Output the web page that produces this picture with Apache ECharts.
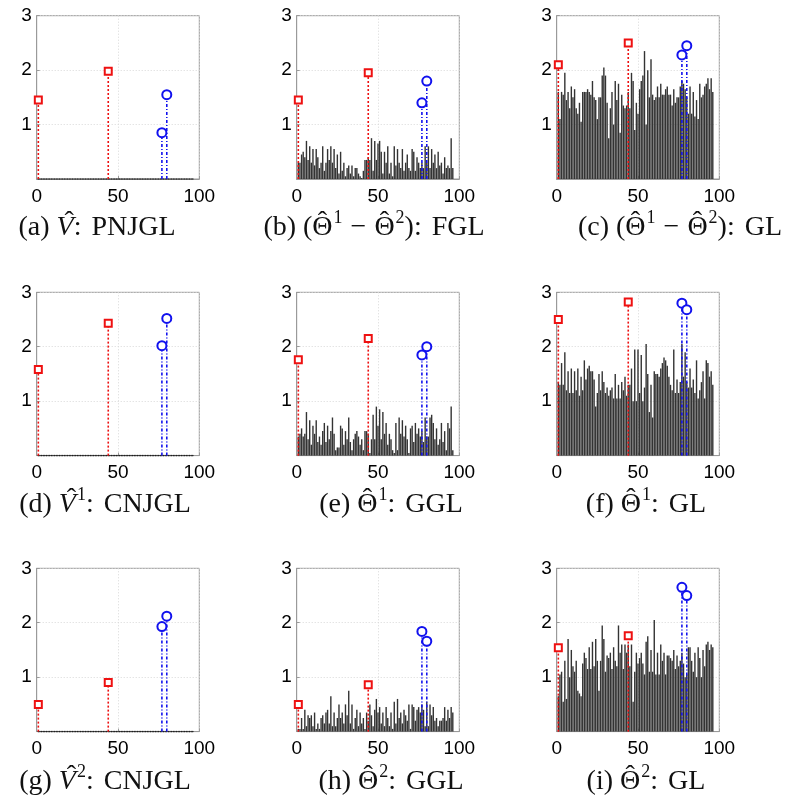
<!DOCTYPE html>
<html><head><meta charset="utf-8">
<script src="https://cdn.jsdelivr.net/npm/echarts@6/dist/echarts.min.js"></script>
<style>html,body{margin:0;padding:0;background:#fff}#c{width:800px;height:807px}</style>
</head><body><div id="c"></div>
<script>
// x positions of nodes are index+1 (1..96)
const xTicks = [0, 50, 100];
const yTicks = [1, 2, 3];
const redNodes = [1, 44];
const blueNodes = [77, 80];

const zerosA = [0,0,0,0,0,0,0,0,0,0,0,0,0,0,0,0,0,0,0,0,0,0,0,0,0,0,0,0,0,0,0,0,0,0,0,0,0,0,0,0,0,0,0,0,0,0,0,0,0,0,0,0,0,0,0,0,0,0,0,0,0,0,0,0,0,0,0,0,0,0,0,0,0,0,0,0,0,0,0,0,0,0,0,0,0,0,0,0,0,0,0,0,0,0,0,0];
const valsB = [0.3,0.3,0.45,0.5,0.4,0.7,0.35,0.6,0.3,0.55,0.25,0.55,0.4,0.2,0.3,0.6,0.15,0.3,0.55,0.35,0.6,0.3,0.55,0.2,0.45,0.1,0.5,0.15,0.3,0.05,0.2,0.25,0.1,0.25,0.05,0.2,0.2,0.1,0.05,0.02,0.15,0.35,0.35,0.4,0.35,0.75,0.15,0.7,0.35,0.65,0.7,0.5,0.1,0.5,0.3,0.6,0.1,0.3,0.05,0.6,0.25,0.55,0.3,0.2,0.55,0.15,0.3,0.45,0.2,0.15,0.55,0.5,0.15,0.4,0.3,0.2,0.3,0.2,0.6,0.3,0.6,0.2,0.55,0.3,0.45,0.2,0.5,0.25,0.3,0.1,0.4,0.2,0.25,0.2,0.75,0.2];
const valsC = [1.6,1.1,1.6,1.55,1.95,1.45,1.6,1.3,1.7,1.5,1.65,1.3,1.2,1.4,1.05,1.6,1.6,1.6,1.65,1.6,1.55,1.8,1.5,1.45,1.1,1.5,1.5,1.9,2.05,1.9,1.4,0.75,1.3,1.6,1.0,1.8,1.45,1.75,0.85,1.55,1.35,1.3,1.35,1.6,1.3,1.95,1.8,0.9,1.4,1.2,1.65,1.8,1.9,2.35,1.0,2.0,1.5,2.2,1.55,1.45,1.5,1.7,1.5,1.75,1.55,1.55,1.65,1.7,1.55,1.55,1.35,1.65,1.4,1.5,1.5,1.7,1.8,1.75,1.65,1.5,1.2,1.7,1.2,1.6,1.15,1.45,1.1,1.75,1.5,1.55,1.7,1.75,1.85,1.65,1.85,1.6];
const valsE = [0.35,0.4,0.5,0.35,0.4,0.8,0.3,0.65,0.2,0.55,0.4,0.65,0.25,0.35,0.2,0.45,0.6,0.25,0.55,0.3,0.45,0.7,0.4,0.1,0.15,0.15,0.55,0.5,0.2,0.45,0.3,0.7,0.25,0.1,0.3,0.4,0.45,0.35,0.2,0.3,0.1,0.45,0.45,0.4,0.05,0.3,0.75,0.3,0.9,0.55,0.85,0.3,0.8,0.4,0.6,0.2,0.4,0.3,0.1,0.05,0.6,0.1,0.7,0.4,0.65,0.35,0.55,0.3,0.05,0.5,0.55,0.25,0.6,0.4,0.5,0.35,0.45,0.25,0.7,0.35,0.35,0.7,0.75,0.6,0.3,0.5,0.2,0.3,0.6,0.25,0.45,0.1,0.6,0.5,0.9,0.1];
const valsF = [1.35,1.3,1.7,1.3,1.9,1.2,1.55,1.15,1.6,1.15,1.55,1.2,1.6,1.1,1.45,1.2,1.75,1.4,1.6,1.65,1.55,1.55,1.4,0.9,1.15,1.5,1.2,1.55,1.35,1.15,1.25,1.1,1.2,1.25,1.05,1.5,1.05,1.3,1.05,1.35,1.2,1.45,1.1,1.3,1.3,1.6,1.0,1.95,1.0,1.95,1.15,1.85,1.0,1.25,2.05,1.5,0.8,1.3,0.7,1.55,1.5,1.5,1.45,1.6,1.7,1.8,1.75,1.65,1.45,1.3,1.2,1.95,1.15,1.4,1.15,1.35,2.05,1.45,1.9,1.35,1.25,1.6,1.25,1.4,1.15,1.75,1.05,1.2,1.35,1.55,1.05,1.75,1.7,1.45,1.55,1.3];
const valsH = [0.05,0.05,0.25,0.05,0.4,0.1,0.3,0.25,0.3,0.1,0.35,0.05,0.15,0.05,0.25,0.3,0.15,0.35,0.4,0.15,0.65,0.1,0.35,0.1,0.25,0.5,0.25,0.35,0.15,0.5,0.3,0.75,0.15,0.5,0.05,0.25,0.4,0.1,0.35,0.15,0.25,0.05,0.35,0.2,0.5,0.3,0.1,0.4,0.6,0.35,0.45,0.15,0.35,0.1,0.45,0.25,0.1,0.35,0.05,0.55,0.15,0.6,0.25,0.35,0.15,0.4,0.3,0.2,0.5,0.05,0.5,0.45,0.2,0.4,0.45,0.35,0.5,0.4,0.1,0.55,0.1,0.5,0.3,0.45,0.2,0.25,0.1,0.2,0.2,0.25,0.45,0.2,0.4,0.25,0.45,0.35];
const valsI = [0.65,1.05,1.1,0.55,1.3,0.6,1.7,1.0,1.5,1.2,1.1,1.3,0.75,0.7,0.65,1.25,1.45,1.35,1.15,1.55,1.15,1.65,1.2,1.7,1.3,0.75,1.3,1.95,1.7,1.1,1.4,1.35,1.45,1.15,1.55,1.3,1.2,1.95,1.45,1.6,1.15,1.6,1.45,1.6,1.2,1.6,0.55,1.1,1.45,1.25,1.35,1.45,1.25,1.05,1.65,1.75,1.1,1.5,1.1,2.05,1.05,1.45,1.05,1.6,1.3,1.45,1.05,1.4,1.4,1.35,1.3,1.5,1.15,1.4,1.2,1.3,1.45,1.25,1.0,1.05,1.55,1.55,1.3,1.1,1.45,1.0,1.55,1.35,1.0,1.5,1.2,1.6,1.65,1.5,1.6,1.55];

const redA = [1.45, 1.98], blueA = [0.85, 1.55];
const redB = [1.45, 1.95], blueB = [1.4, 1.8];
const redC = [2.1, 2.5],  blueC = [2.28, 2.45];
const redD = [1.58, 2.43], blueD = [2.02, 2.52];
const redE = [1.76, 2.15], blueE = [1.85, 2.0];
const redF = [2.5, 2.82], blueF = [2.8, 2.68];
const redG = [0.5, 0.9],  blueG = [1.93, 2.12];
const redH = [0.5, 0.86], blueH = [1.84, 1.66];
const redI = [1.54, 1.76], blueI = [2.65, 2.5];

const panels = [
  {vals: zerosA, red: redA, blue: blueA},
  {vals: valsB, red: redB, blue: blueB},
  {vals: valsC, red: redC, blue: blueC},
  {vals: zerosA, red: redD, blue: blueD},
  {vals: valsE, red: redE, blue: blueE},
  {vals: valsF, red: redF, blue: blueF},
  {vals: zerosA, red: redG, blue: blueG},
  {vals: valsH, red: redH, blue: blueH},
  {vals: valsI, red: redI, blue: blueI}
];

// caption tokens: n = roman, iv = italic with hat, h = roman with hat, s = superscript, g = gap(px)
const captions = [
  {x: 97,  y: 228, t: [['n','(a) '],['iv','V'],['n',':'],['g',10],['n','PNJGL']]},
  {x: 374, y: 228, t: [['n','(b) ('],['h','Θ'],['s','1'],['g',8],['n','−'],['g',8],['h','Θ'],['s','2'],['n','):'],['g',10],['n','FGL']]},
  {x: 680, y: 228, t: [['n','(c) ('],['h','Θ'],['s','1'],['g',8],['n','−'],['g',8],['h','Θ'],['s','2'],['n','):'],['g',10],['n','GL']]},
  {x: 105, y: 505, t: [['n','(d) '],['iv','V'],['s','1'],['n',':'],['g',10],['n','CNJGL']]},
  {x: 391, y: 505, t: [['n','(e) '],['h','Θ'],['s','1'],['n',':'],['g',10],['n','GGL']]},
  {x: 646, y: 505, t: [['n','(f) '],['h','Θ'],['s','1'],['n',':'],['g',10],['n','GL']]},
  {x: 105, y: 782, t: [['n','(g) '],['iv','V'],['s','2'],['n',':'],['g',10],['n','CNJGL']]},
  {x: 391, y: 782, t: [['n','(h) '],['h','Θ'],['s','2'],['n',':'],['g',10],['n','GGL']]},
  {x: 646, y: 782, t: [['n','(i) '],['h','Θ'],['s','2'],['n',':'],['g',10],['n','GL']]}
];

const colLeft = [36.7, 296.7, 556.7];
const rowTop = [15.7, 292.3, 568.3];
const W = 162.6, H = 163.3;
const boxColor = '#9a9a9a';

const grids = [], xAxes = [], yAxes = [], series = [];
panels.forEach((p, k) => {
  const r = Math.floor(k / 3), c = k % 3;
  grids.push({left: colLeft[c], top: rowTop[r], width: W, height: H, show: true, borderColor: boxColor, borderWidth: 1, backgroundColor: '#fff'});
  xAxes.push({
    type: 'value', gridIndex: k, min: xTicks[0], max: xTicks[2], interval: 50,
    axisLine: {show: true, lineStyle: {color: boxColor}},
    axisTick: {show: true, inside: true, length: 3, lineStyle: {color: boxColor}},
    axisLabel: {color: '#000', fontFamily: 'Liberation Sans', fontSize: 19, margin: 8},
    splitLine: {show: true, lineStyle: {color: '#d8d8d8', type: [1, 2]}}
  });
  yAxes.push({
    type: 'value', gridIndex: k, min: 0, max: 3, interval: 1,
    axisLine: {show: true, lineStyle: {color: boxColor}},
    axisTick: {show: true, inside: true, length: 3, lineStyle: {color: boxColor}},
    axisLabel: {color: '#000', fontFamily: 'Liberation Sans', fontSize: 19, margin: 5,
      formatter: v => (yTicks.indexOf(v) >= 0 ? String(v) : '')},
    splitLine: {show: true, lineStyle: {color: '#d8d8d8', type: [1, 2]}}
  });
  const pts = p.vals.map((v, i) => [i + 1, v]);
  series.push({
    type: 'bar', xAxisIndex: k, yAxisIndex: k, barWidth: 1.4,
    itemStyle: {color: '#333'}, data: pts.filter(d => d[1] > 0), silent: true, z: 2
  });
  const zeroPts = pts.filter(d => d[1] === 0);
  if (zeroPts.length) {
    series.push({
      type: 'scatter', xAxisIndex: k, yAxisIndex: k, symbol: 'circle', symbolSize: 1.6,
      itemStyle: {color: '#000'}, data: zeroPts, silent: true, z: 2
    });
  }
  redNodes.forEach((n, j) => {
    series.push({
      type: 'line', xAxisIndex: k, yAxisIndex: k, z: 4, silent: true,
      lineStyle: {color: '#ee1111', width: 1.6, type: [2, 2]},
      itemStyle: {color: '#ee1111', borderWidth: 1.4},
      symbolSize: 7,
      data: [{value: [n, 0], symbol: 'none'}, {value: [n, p.red[j]], symbol: 'emptyRect'}]
    });
  });
  blueNodes.forEach((n, j) => {
    series.push({
      type: 'line', xAxisIndex: k, yAxisIndex: k, z: 4, silent: true,
      lineStyle: {color: '#1111ee', width: 1.6, type: [3, 2, 1, 2]},
      itemStyle: {color: '#1111ee', borderWidth: 1.4},
      symbolSize: 9,
      data: [{value: [n, 0], symbol: 'none'}, {value: [n, p.blue[j]], symbol: 'emptyCircle'}]
    });
  });
});

// caption layout
const capFamily = 'Liberation Serif';
const capSize = 28, supSize = 18;
const mctx = document.createElement('canvas').getContext('2d');
function tokStyle(kind) {
  if (kind === 'iv') return {fontStyle: 'italic', fontSize: capSize};
  if (kind === 's') return {fontStyle: 'normal', fontSize: supSize};
  return {fontStyle: 'normal', fontSize: capSize};
}
function tokWidth(kind, txt) {
  if (kind === 'g') return txt;
  const s = tokStyle(kind);
  mctx.font = s.fontStyle + ' ' + s.fontSize + 'px "' + capFamily + '"';
  return mctx.measureText(txt).width + (kind === 's' ? 1 : 0);
}
const graphics = [];
captions.forEach(cp => {
  const widths = cp.t.map(tk => tokWidth(tk[0], tk[1]));
  const total = widths.reduce((a, b) => a + b, 0);
  let x = cp.x - total / 2;
  cp.t.forEach((tk, i) => {
    const kind = tk[0];
    if (kind !== 'g') {
      const s = tokStyle(kind);
      const yy = kind === 's' ? cp.y - 10 : cp.y;
      graphics.push({type: 'text', x: x + (kind === 's' ? 1 : 0), y: yy, silent: true, style: {
        text: tk[1], fontFamily: capFamily, fontSize: s.fontSize, fontStyle: s.fontStyle,
        fill: '#111', textAlign: 'left', textVerticalAlign: 'middle'}});
      if (kind === 'h' || kind === 'iv') {
        const hx = x + widths[i] / 2 + (kind === 'iv' ? 4 : 0);
        graphics.push({type: 'text', x: hx, y: cp.y - 5, silent: true, style: {
          text: 'ˆ', fontFamily: capFamily, fontSize: capSize, fill: '#111',
          textAlign: 'center', textVerticalAlign: 'middle'}});
      }
    }
    x += widths[i];
  });
});

const chart = echarts.init(document.getElementById('c'), null, {renderer: 'canvas'});
chart.setOption({
  animation: false, backgroundColor: '#fff',
  grid: grids, xAxis: xAxes, yAxis: yAxes, series: series, graphic: graphics
});
</script></body></html>
